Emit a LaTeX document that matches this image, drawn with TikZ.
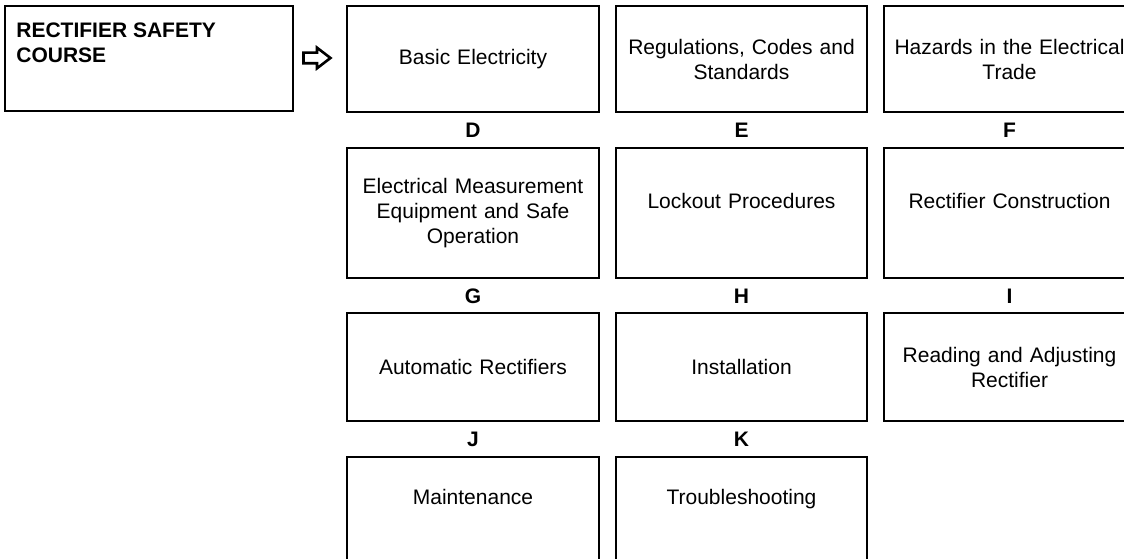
\documentclass[tikz,border=0pt]{standalone}
\usepackage{fontspec}
\setmainfont{Liberation Sans}
\usetikzlibrary{shapes.arrows}

\begin{document}
\begin{tikzpicture}[x=1pt, y=-1pt,
  frame/.style={draw, line width=1.7pt, inner sep=0pt},
  box/.style={frame, minimum width=251.5pt, text width=246pt, align=center,
              font=\fontsize{21}{25}\selectfont},
  tag/.style={inner sep=0pt, font=\fontsize{21}{25}\selectfont\bfseries}]
  \useasboundingbox (0,0) rectangle (1124,559);
  \clip (0,0) rectangle (1124,559);
  % course title
  \node[frame, minimum width=288pt, minimum height=105pt] (title) at (149,58.5) {};
  \node[tag, anchor=north west, align=left] (title-txt)
       at ([shift={(12,17)}]title.north west) {RECTIFIER SAFETY\\COURSE};
  \node[single arrow, draw, line width=2.6pt, minimum height=27pt, minimum width=18pt,
        inner xsep=0pt, inner ysep=4pt, single arrow head extend=5pt,
        single arrow tip angle=75] (arr) at (313.5,58) {};
  % modules, row by row
  \node[box, minimum height=106pt] (b1) at (473,59)    {Basic Electricity};
  \node[box, minimum height=106pt] (b2) at (741.5,59)  {Regulations, Codes and\\Standards};
  \node[box, minimum height=106pt] (b3) at (1009.5,59) {Hazards in the Electrical\\Trade};
  \node[box, minimum height=130pt] (b4) at (473,213)    {Electrical Measurement\\Equipment and Safe\\Operation};
  \node[box, minimum height=130pt] (b5) at (741.5,213)  {Lockout Procedures\\~};
  \node[box, minimum height=130pt] (b6) at (1009.5,213) {Rectifier Construction\\~};
  \node[box, minimum height=108pt] (b7) at (473,367)    {Automatic Rectifiers};
  \node[box, minimum height=108pt] (b8) at (741.5,367)  {Installation};
  \node[box, minimum height=108pt] (b9) at (1009.5,367) {Reading and Adjusting\\Rectifier};
  \node[box, minimum height=130pt] (b10) at (473,522)   {Maintenance\\~\\~};
  \node[box, minimum height=130pt] (b11) at (741.5,522) {Troubleshooting\\~\\~};
  % module letters
  \node[tag] (tD) at (473,130)    {D};
  \node[tag] (tE) at (741.5,130)  {E};
  \node[tag] (tF) at (1009.5,130) {F};
  \node[tag] (tG) at (473,296)    {G};
  \node[tag] (tH) at (741.5,296)  {H};
  \node[tag] (tI) at (1009.5,296) {I};
  \node[tag] (tJ) at (473,439)    {J};
  \node[tag] (tK) at (741.5,439)  {K};
\end{tikzpicture}
\end{document}
